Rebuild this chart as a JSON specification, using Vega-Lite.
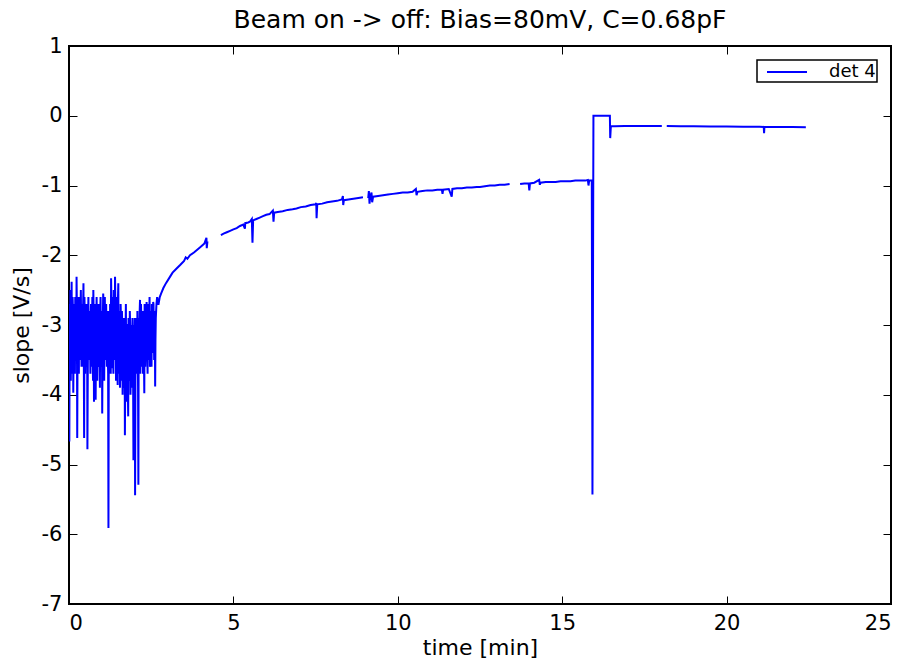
{
  "$schema": "https://vega.github.io/schema/vega-lite/v6.json",
  "width": 822,
  "height": 558,
  "autosize": {"type": "none"},
  "padding": {"left": 69, "top": 46, "right": 21, "bottom": 61},
  "background": "white",
  "title": {"text": "Beam on -> off: Bias=80mV, C=0.68pF", "font": "DejaVu Sans", "fontSize": 25, "fontWeight": "normal", "color": "black", "offset": 2},
  "config": {
    "view": {"stroke": "black", "strokeWidth": 2},
    "legend": {"strokeWidth": 1.5},
    "axis": {"domain": false, "grid": false, "tickColor": "black", "tickSize": -8, "tickWidth": 1, "labelFont": "DejaVu Sans", "labelFontSize": 21, "labelColor": "black", "titleFont": "DejaVu Sans", "titleFontSize": 22, "titleFontWeight": "normal", "titleColor": "black"}
  },
  "datasets": {
    "main": [
    {"t":0.00,"v":-3.1,"s":1},{"t":0.01,"v":-4.67,"s":1},{"t":0.02,"v":-3.0,"s":1},{"t":0.03,"v":-3.5,"s":1},{"t":0.04,"v":-2.5,"s":1},{"t":0.06,"v":-3.3,"s":1},{"t":0.08,"v":-2.38,"s":1},{"t":0.10,"v":-3.1,"s":1},{"t":0.12,"v":-2.8,"s":1},{"t":0.13,"v":-3.97,"s":1},{"t":0.15,"v":-2.9,"s":1},{"t":0.17,"v":-3.4,"s":1},{"t":0.19,"v":-2.6,"s":1},{"t":0.21,"v":-3.2,"s":1},{"t":0.23,"v":-2.31,"s":1},{"t":0.25,"v":-4.62,"s":1},{"t":0.27,"v":-2.9,"s":1},{"t":0.29,"v":-3.3,"s":1},{"t":0.31,"v":-2.6,"s":1},{"t":0.33,"v":-3.5,"s":1},{"t":0.35,"v":-2.8,"s":1},{"t":0.37,"v":-3.1,"s":1},{"t":0.39,"v":-2.7,"s":1},{"t":0.41,"v":-3.6,"s":1},{"t":0.44,"v":-2.4,"s":1},{"t":0.46,"v":-4.62,"s":1},{"t":0.48,"v":-2.9,"s":1},{"t":0.50,"v":-3.3,"s":1},{"t":0.52,"v":-2.7,"s":1},{"t":0.54,"v":-3.6,"s":1},{"t":0.56,"v":-4.78,"s":1},{"t":0.58,"v":-3.0,"s":1},{"t":0.60,"v":-3.4,"s":1},{"t":0.62,"v":-2.8,"s":1},{"t":0.64,"v":-3.2,"s":1},{"t":0.66,"v":-2.9,"s":1},{"t":0.68,"v":-3.6,"s":1},{"t":0.70,"v":-3.0,"s":1},{"t":0.72,"v":-3.4,"s":1},{"t":0.74,"v":-2.5,"s":1},{"t":0.76,"v":-4.1,"s":1},{"t":0.78,"v":-3.0,"s":1},{"t":0.80,"v":-3.6,"s":1},{"t":0.81,"v":-4.07,"s":1},{"t":0.83,"v":-2.9,"s":1},{"t":0.85,"v":-3.3,"s":1},{"t":0.87,"v":-2.7,"s":1},{"t":0.89,"v":-3.5,"s":1},{"t":0.91,"v":-3.0,"s":1},{"t":0.93,"v":-3.4,"s":1},{"t":0.95,"v":-2.8,"s":1},{"t":0.97,"v":-3.3,"s":1},{"t":0.99,"v":-3.0,"s":1},{"t":1.01,"v":-4.27,"s":1},{"t":1.03,"v":-2.9,"s":1},{"t":1.04,"v":-2.55,"s":1},{"t":1.06,"v":-3.3,"s":1},{"t":1.08,"v":-2.9,"s":1},{"t":1.10,"v":-3.5,"s":1},{"t":1.12,"v":-3.0,"s":1},{"t":1.14,"v":-3.2,"s":1},{"t":1.16,"v":-2.8,"s":1},{"t":1.18,"v":-3.4,"s":1},{"t":1.20,"v":-5.91,"s":1},{"t":1.21,"v":-3.4,"s":1},{"t":1.23,"v":-3.0,"s":1},{"t":1.25,"v":-2.7,"s":1},{"t":1.28,"v":-2.33,"s":1},{"t":1.30,"v":-3.62,"s":1},{"t":1.32,"v":-2.8,"s":1},{"t":1.34,"v":-3.2,"s":1},{"t":1.36,"v":-2.5,"s":1},{"t":1.38,"v":-3.3,"s":1},{"t":1.40,"v":-2.31,"s":1},{"t":1.42,"v":-3.1,"s":1},{"t":1.44,"v":-2.6,"s":1},{"t":1.46,"v":-3.4,"s":1},{"t":1.48,"v":-3.86,"s":1},{"t":1.50,"v":-2.4,"s":1},{"t":1.52,"v":-3.2,"s":1},{"t":1.54,"v":-2.8,"s":1},{"t":1.56,"v":-3.6,"s":1},{"t":1.58,"v":-2.9,"s":1},{"t":1.60,"v":-3.8,"s":1},{"t":1.62,"v":-3.0,"s":1},{"t":1.64,"v":-3.5,"s":1},{"t":1.66,"v":-2.9,"s":1},{"t":1.68,"v":-3.9,"s":1},{"t":1.70,"v":-4.58,"s":1},{"t":1.72,"v":-3.1,"s":1},{"t":1.74,"v":-3.7,"s":1},{"t":1.76,"v":-3.0,"s":1},{"t":1.78,"v":-3.6,"s":1},{"t":1.80,"v":-4.31,"s":1},{"t":1.82,"v":-3.2,"s":1},{"t":1.84,"v":-3.8,"s":1},{"t":1.86,"v":-3.0,"s":1},{"t":1.88,"v":-3.7,"s":1},{"t":1.90,"v":-3.1,"s":1},{"t":1.92,"v":-3.9,"s":1},{"t":1.94,"v":-3.2,"s":1},{"t":1.96,"v":-4.94,"s":1},{"t":1.98,"v":-3.3,"s":1},{"t":2.01,"v":-5.44,"s":1},{"t":2.03,"v":-3.4,"s":1},{"t":2.05,"v":-3.0,"s":1},{"t":2.07,"v":-3.7,"s":1},{"t":2.09,"v":-3.1,"s":1},{"t":2.11,"v":-5.29,"s":1},{"t":2.13,"v":-3.2,"s":1},{"t":2.16,"v":-2.64,"s":1},{"t":2.18,"v":-3.3,"s":1},{"t":2.20,"v":-2.9,"s":1},{"t":2.22,"v":-3.6,"s":1},{"t":2.24,"v":-2.8,"s":1},{"t":2.26,"v":-3.4,"s":1},{"t":2.29,"v":-3.98,"s":1},{"t":2.31,"v":-2.9,"s":1},{"t":2.33,"v":-3.3,"s":1},{"t":2.36,"v":-2.67,"s":1},{"t":2.38,"v":-3.4,"s":1},{"t":2.40,"v":-2.8,"s":1},{"t":2.42,"v":-3.5,"s":1},{"t":2.44,"v":-2.9,"s":1},{"t":2.46,"v":-3.6,"s":1},{"t":2.48,"v":-2.8,"s":1},{"t":2.50,"v":-3.3,"s":1},{"t":2.52,"v":-2.7,"s":1},{"t":2.54,"v":-3.2,"s":1},{"t":2.56,"v":-2.67,"s":1},{"t":2.58,"v":-3.1,"s":1},{"t":2.60,"v":-2.8,"s":1},{"t":2.62,"v":-3.88,"s":1},{"t":2.64,"v":-2.9,"s":1},{"t":2.66,"v":-2.7,"s":1},{"t":2.68,"v":-2.6,"s":1},{"t":2.72,"v":-2.71,"s":1},{"t":2.76,"v":-2.6,"s":1},
    {"t":0.005,"v":-2.7,"s":1},{"t":0.025,"v":-3.6,"s":1},{"t":0.045,"v":-2.9,"s":1},{"t":0.055,"v":-3.8,"s":1},{"t":0.07,"v":-3.0,"s":1},{"t":0.09,"v":-3.7,"s":1},{"t":0.11,"v":-2.6,"s":1},{"t":0.14,"v":-3.3,"s":1},{"t":0.16,"v":-2.7,"s":1},{"t":0.18,"v":-3.7,"s":1},{"t":0.20,"v":-2.9,"s":1},{"t":0.22,"v":-3.5,"s":1},{"t":0.24,"v":-2.8,"s":1},{"t":0.26,"v":-3.4,"s":1},{"t":0.28,"v":-2.6,"s":1},{"t":0.30,"v":-3.7,"s":1},{"t":0.32,"v":-2.9,"s":1},{"t":0.34,"v":-3.2,"s":1},{"t":0.36,"v":-2.5,"s":1},{"t":0.38,"v":-3.6,"s":1},{"t":0.40,"v":-2.9,"s":1},{"t":0.42,"v":-3.3,"s":1},{"t":0.43,"v":-2.7,"s":1},{"t":0.45,"v":-3.4,"s":1},{"t":0.47,"v":-2.6,"s":1},{"t":0.49,"v":-3.7,"s":1},{"t":0.51,"v":-2.9,"s":1},{"t":0.53,"v":-3.1,"s":1},{"t":0.55,"v":-2.7,"s":1},{"t":0.57,"v":-3.8,"s":1},{"t":0.59,"v":-2.6,"s":1},{"t":0.61,"v":-3.5,"s":1},{"t":0.63,"v":-2.9,"s":1},{"t":0.65,"v":-3.7,"s":1},{"t":0.67,"v":-2.7,"s":1},{"t":0.69,"v":-3.3,"s":1},{"t":0.71,"v":-2.6,"s":1},{"t":0.73,"v":-3.8,"s":1},{"t":0.75,"v":-2.9,"s":1},{"t":0.77,"v":-3.4,"s":1},{"t":0.79,"v":-2.7,"s":1},{"t":0.82,"v":-3.3,"s":1},{"t":0.84,"v":-2.6,"s":1},{"t":0.86,"v":-3.8,"s":1},{"t":0.88,"v":-2.9,"s":1},{"t":0.90,"v":-3.6,"s":1},{"t":0.92,"v":-2.7,"s":1},{"t":0.94,"v":-3.9,"s":1},{"t":0.96,"v":-2.6,"s":1},{"t":0.98,"v":-3.6,"s":1},{"t":1.00,"v":-2.8,"s":1},{"t":1.02,"v":-3.5,"s":1},{"t":1.05,"v":-2.7,"s":1},{"t":1.07,"v":-3.8,"s":1},{"t":1.09,"v":-2.6,"s":1},{"t":1.11,"v":-3.3,"s":1},{"t":1.13,"v":-2.7,"s":1},{"t":1.15,"v":-3.6,"s":1},{"t":1.17,"v":-2.9,"s":1},{"t":1.19,"v":-3.7,"s":1},{"t":1.22,"v":-2.8,"s":1},{"t":1.24,"v":-3.6,"s":1},{"t":1.26,"v":-3.0,"s":1},{"t":1.27,"v":-3.7,"s":1},{"t":1.29,"v":-2.7,"s":1},{"t":1.31,"v":-3.4,"s":1},{"t":1.33,"v":-2.6,"s":1},{"t":1.35,"v":-3.7,"s":1},{"t":1.37,"v":-2.9,"s":1},{"t":1.39,"v":-3.5,"s":1},{"t":1.41,"v":-2.7,"s":1},{"t":1.43,"v":-3.8,"s":1},{"t":1.45,"v":-2.8,"s":1},{"t":1.47,"v":-3.3,"s":1},{"t":1.49,"v":-2.6,"s":1},{"t":1.51,"v":-3.7,"s":1},{"t":1.53,"v":-2.9,"s":1},{"t":1.55,"v":-3.9,"s":1},{"t":1.57,"v":-2.7,"s":1},{"t":1.59,"v":-3.4,"s":1},{"t":1.61,"v":-2.8,"s":1},{"t":1.63,"v":-4.0,"s":1},{"t":1.65,"v":-3.0,"s":1},{"t":1.67,"v":-3.6,"s":1},{"t":1.69,"v":-2.9,"s":1},{"t":1.71,"v":-3.8,"s":1},{"t":1.73,"v":-2.7,"s":1},{"t":1.75,"v":-4.1,"s":1},{"t":1.77,"v":-3.0,"s":1},{"t":1.79,"v":-3.9,"s":1},{"t":1.81,"v":-2.9,"s":1},{"t":1.83,"v":-3.5,"s":1},{"t":1.85,"v":-2.8,"s":1},{"t":1.87,"v":-4.0,"s":1},{"t":1.89,"v":-3.0,"s":1},{"t":1.91,"v":-3.6,"s":1},{"t":1.93,"v":-2.9,"s":1},{"t":1.95,"v":-3.8,"s":1},{"t":1.97,"v":-3.0,"s":1},{"t":1.99,"v":-3.6,"s":1},{"t":2.00,"v":-2.9,"s":1},{"t":2.02,"v":-3.8,"s":1},{"t":2.04,"v":-2.9,"s":1},{"t":2.06,"v":-3.5,"s":1},{"t":2.08,"v":-2.8,"s":1},{"t":2.10,"v":-3.9,"s":1},{"t":2.12,"v":-2.9,"s":1},{"t":2.14,"v":-3.6,"s":1},{"t":2.15,"v":-2.8,"s":1},{"t":2.17,"v":-3.7,"s":1},{"t":2.19,"v":-2.7,"s":1},{"t":2.21,"v":-3.4,"s":1},{"t":2.23,"v":-2.9,"s":1},{"t":2.25,"v":-3.7,"s":1},{"t":2.27,"v":-2.8,"s":1},{"t":2.28,"v":-3.5,"s":1},{"t":2.30,"v":-2.7,"s":1},{"t":2.32,"v":-3.6,"s":1},{"t":2.34,"v":-2.8,"s":1},{"t":2.35,"v":-3.4,"s":1},{"t":2.37,"v":-2.9,"s":1},{"t":2.39,"v":-3.7,"s":1},{"t":2.41,"v":-2.7,"s":1},{"t":2.43,"v":-3.3,"s":1},{"t":2.45,"v":-2.6,"s":1},{"t":2.47,"v":-3.5,"s":1},{"t":2.49,"v":-2.9,"s":1},{"t":2.51,"v":-3.6,"s":1},{"t":2.53,"v":-2.8,"s":1},{"t":2.55,"v":-3.4,"s":1},{"t":2.57,"v":-2.7,"s":1},{"t":2.59,"v":-3.5,"s":1},{"t":2.61,"v":-2.9,"s":1},{"t":2.63,"v":-3.2,"s":1},{"t":2.65,"v":-2.8,"s":1},
    {"t":2.80,"v":-2.55,"s":1},{"t":2.87,"v":-2.47,"s":1},{"t":2.95,"v":-2.40,"s":1},{"t":3.07,"v":-2.31,"s":1},{"t":3.15,"v":-2.25,"s":1},{"t":3.25,"v":-2.20,"s":1},{"t":3.38,"v":-2.14,"s":1},{"t":3.50,"v":-2.08,"s":1},{"t":3.55,"v":-2.03,"s":1},{"t":3.60,"v":-2.05,"s":1},{"t":3.68,"v":-2.00,"s":1},{"t":3.80,"v":-1.96,"s":1},{"t":3.90,"v":-1.92,"s":1},{"t":3.98,"v":-1.89,"s":1},{"t":4.05,"v":-1.86,"s":1},{"t":4.12,"v":-1.83,"s":1},{"t":4.18,"v":-1.75,"s":1},{"t":4.19,"v":-1.90,"s":1},{"t":4.21,"v":-1.80,"s":1},
    {"t":4.62,"v":-1.71,"s":2},{"t":4.70,"v":-1.69,"s":2},{"t":4.80,"v":-1.67,"s":2},{"t":4.90,"v":-1.65,"s":2},{"t":5.00,"v":-1.63,"s":2},{"t":5.10,"v":-1.61,"s":2},{"t":5.20,"v":-1.58,"s":2},{"t":5.30,"v":-1.56,"s":2},{"t":5.35,"v":-1.62,"s":2},{"t":5.36,"v":-1.54,"s":2},{"t":5.45,"v":-1.53,"s":2},{"t":5.50,"v":-1.52,"s":2},{"t":5.56,"v":-1.48,"s":2},{"t":5.58,"v":-1.82,"s":2},{"t":5.60,"v":-1.50,"s":2},{"t":5.70,"v":-1.48,"s":2},{"t":5.80,"v":-1.46,"s":2},{"t":5.90,"v":-1.44,"s":2},{"t":6.00,"v":-1.42,"s":2},{"t":6.10,"v":-1.41,"s":2},{"t":6.20,"v":-1.36,"s":2},{"t":6.22,"v":-1.52,"s":2},{"t":6.24,"v":-1.39,"s":2},{"t":6.35,"v":-1.38,"s":2},{"t":6.50,"v":-1.37,"s":2},{"t":6.65,"v":-1.35,"s":2},{"t":6.80,"v":-1.34,"s":2},{"t":6.92,"v":-1.33,"s":2},{"t":7.05,"v":-1.31,"s":2},{"t":7.20,"v":-1.30,"s":2},{"t":7.35,"v":-1.28,"s":2},{"t":7.50,"v":-1.27,"s":2},{"t":7.52,"v":-1.25,"s":2},{"t":7.53,"v":-1.47,"s":2},{"t":7.55,"v":-1.27,"s":2},{"t":7.70,"v":-1.26,"s":2},{"t":7.85,"v":-1.24,"s":2},{"t":8.00,"v":-1.23,"s":2},{"t":8.15,"v":-1.22,"s":2},{"t":8.30,"v":-1.20,"s":2},{"t":8.33,"v":-1.15,"s":2},{"t":8.34,"v":-1.28,"s":2},{"t":8.36,"v":-1.21,"s":2},{"t":8.50,"v":-1.20,"s":2},{"t":8.65,"v":-1.19,"s":2},{"t":8.80,"v":-1.18,"s":2},{"t":8.94,"v":-1.17,"s":2},
    {"t":9.10,"v":-1.18,"s":3},{"t":9.12,"v":-1.08,"s":3},{"t":9.14,"v":-1.26,"s":3},{"t":9.16,"v":-1.16,"s":3},{"t":9.20,"v":-1.10,"s":3},{"t":9.22,"v":-1.24,"s":3},{"t":9.25,"v":-1.16,"s":3},{"t":9.40,"v":-1.15,"s":3},{"t":9.55,"v":-1.14,"s":3},{"t":9.70,"v":-1.13,"s":3},{"t":9.85,"v":-1.12,"s":3},{"t":10.00,"v":-1.11,"s":3},{"t":10.15,"v":-1.10,"s":3},{"t":10.30,"v":-1.10,"s":3},{"t":10.45,"v":-1.09,"s":3},{"t":10.55,"v":-1.05,"s":3},{"t":10.57,"v":-1.14,"s":3},{"t":10.60,"v":-1.09,"s":3},{"t":10.75,"v":-1.08,"s":3},{"t":10.90,"v":-1.07,"s":3},{"t":11.05,"v":-1.07,"s":3},{"t":11.20,"v":-1.06,"s":3},{"t":11.34,"v":-1.06,"s":3},{"t":11.36,"v":-1.12,"s":3},{"t":11.38,"v":-1.06,"s":3},{"t":11.55,"v":-1.05,"s":3},{"t":11.64,"v":-1.16,"s":3},{"t":11.66,"v":-1.05,"s":3},{"t":11.80,"v":-1.04,"s":3},{"t":11.95,"v":-1.04,"s":3},{"t":12.10,"v":-1.03,"s":3},{"t":12.25,"v":-1.03,"s":3},{"t":12.40,"v":-1.02,"s":3},{"t":12.50,"v":-1.02,"s":3},{"t":12.65,"v":-1.01,"s":3},{"t":12.80,"v":-1.00,"s":3},{"t":12.95,"v":-1.00,"s":3},{"t":13.10,"v":-0.99,"s":3},{"t":13.25,"v":-0.99,"s":3},{"t":13.40,"v":-0.98,"s":3},
    {"t":13.72,"v":-0.98,"s":4},{"t":13.85,"v":-0.97,"s":4},{"t":13.98,"v":-0.97,"s":4},{"t":14.00,"v":-1.07,"s":4},{"t":14.02,"v":-0.97,"s":4},{"t":14.15,"v":-0.96,"s":4},{"t":14.30,"v":-0.92,"s":4},{"t":14.32,"v":-0.99,"s":4},{"t":14.34,"v":-0.96,"s":4},{"t":14.50,"v":-0.95,"s":4},{"t":14.65,"v":-0.95,"s":4},{"t":14.80,"v":-0.95,"s":4},{"t":14.95,"v":-0.94,"s":4},{"t":15.10,"v":-0.94,"s":4},{"t":15.25,"v":-0.94,"s":4},{"t":15.40,"v":-0.93,"s":4},{"t":15.55,"v":-0.93,"s":4},{"t":15.70,"v":-0.93,"s":4},{"t":15.78,"v":-0.92,"s":4},{"t":15.80,"v":-1.00,"s":4},{"t":15.82,"v":-0.93,"s":4},{"t":15.90,"v":-0.93,"s":4},{"t":15.92,"v":-5.43,"s":4},{"t":15.95,"v":0.0,"s":4},{"t":16.45,"v":0.0,"s":4},{"t":16.46,"v":-0.32,"s":4},{"t":16.48,"v":-0.15,"s":4},{"t":16.60,"v":-0.150,"s":4},{"t":16.90,"v":-0.148,"s":4},{"t":17.20,"v":-0.148,"s":4},{"t":17.50,"v":-0.147,"s":4},{"t":17.80,"v":-0.147,"s":4},{"t":18.03,"v":-0.147,"s":4},
    {"t":18.18,"v":-0.148,"s":5},{"t":18.60,"v":-0.150,"s":5},{"t":19.00,"v":-0.152,"s":5},{"t":19.50,"v":-0.154,"s":5},{"t":20.00,"v":-0.155,"s":5},{"t":20.50,"v":-0.157,"s":5},{"t":21.00,"v":-0.158,"s":5},{"t":21.13,"v":-0.16,"s":5},{"t":21.14,"v":-0.25,"s":5},{"t":21.15,"v":-0.16,"s":5},{"t":21.50,"v":-0.160,"s":5},{"t":22.00,"v":-0.162,"s":5},{"t":22.41,"v":-0.165,"s":5}
    ]
  },
  "data": {"name": "main"},
  "transform": [{"calculate": "'det 4'", "as": "series"}],
  "layer": [
    {
      "mark": {"type": "line", "strokeWidth": 2, "clip": true},
      "encoding": {
        "x": {"field": "t", "type": "quantitative", "scale": {"domain": [0, 25], "nice": false, "zero": false}, "axis": {"title": "time [min]", "values": [0, 5, 10, 15, 20, 25], "labelExpr": "'' + datum.value", "labelPadding": 16, "titlePadding": 4}},
        "y": {"field": "v", "type": "quantitative", "scale": {"domain": [-7, 1], "nice": false, "zero": false}, "axis": {"title": "slope [V/s]", "values": [1, 0, -1, -2, -3, -4, -5, -6, -7], "labelExpr": "'' + datum.value", "labelPadding": 15, "titlePadding": 8}},
        "detail": {"field": "s"},
        "color": {"field": "series", "type": "nominal", "scale": {"range": ["#0000ff"]}, "legend": {"title": null, "orient": "top-right", "offset": 14, "strokeColor": "black", "cornerRadius": 0, "fillColor": "white", "padding": 1, "symbolType": "M-2,0H2", "symbolSize": 400, "symbolStrokeWidth": 2, "symbolFillColor": "transparent", "labelFont": "DejaVu Sans", "labelFontSize": 18, "labelColor": "black", "symbolOffset": 18, "labelOffset": 31, "labelExpr": "datum.label + '\u00a0\u00a0'"}}
      }
    },
    {
      "mark": {"type": "line", "strokeOpacity": 0},
      "encoding": {
        "x": {"field": "t", "type": "quantitative", "axis": {"orient": "top", "labels": false, "title": null, "values": [0, 5, 10, 15, 20, 25]}},
        "y": {"field": "v", "type": "quantitative", "axis": {"orient": "right", "labels": false, "title": null, "values": [1, 0, -1, -2, -3, -4, -5, -6, -7]}},
        "detail": {"field": "s"}
      }
    }
  ],
  "resolve": {"axis": {"x": "independent", "y": "independent"}}
}
